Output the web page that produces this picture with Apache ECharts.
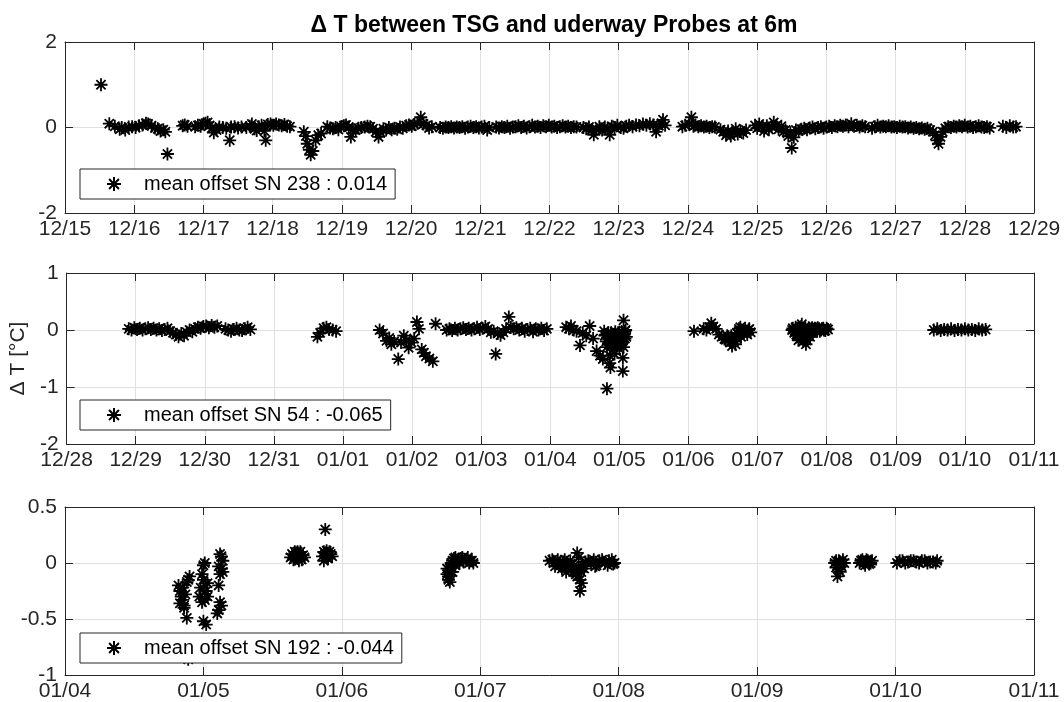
<!DOCTYPE html>
<html>
<head>
<meta charset="utf-8">
<script src="https://cdn.jsdelivr.net/npm/echarts@6/dist/echarts.min.js"></script>
<style>
html,body{margin:0;padding:0;background:#fff;}
#chart{width:1064px;height:702px;}
</style>
</head>
<body>
<div id="chart"></div>
<script>
// Tick labels: index = days since 12/15
const dateLabels = ['12/15','12/16','12/17','12/18','12/19','12/20','12/21','12/22','12/23','12/24','12/25','12/26','12/27','12/28','12/29','12/30','12/31','01/01','01/02','01/03','01/04','01/05','01/06','01/07','01/08','01/09','01/10','01/11'];

const titleText = '\u0394 T between TSG and uderway Probes at 6m';
const yAxisTitle = '\u0394 T [\u00B0C]';
const seriesNames = ['mean offset SN 238 : 0.014', 'mean offset SN 54 : -0.065', 'mean offset SN 192 : -0.044'];

// [day since 12/15, delta T]
const sn238 = [
[0.52,1.0],
[0.64,0.09],[0.72,0.03],[0.79,-0.04],[0.82,0.0],[0.87,-0.06],[0.92,0.01],[0.97,0.02],[1.02,0.0],[1.07,0.04],[1.12,0.06],[1.17,0.1],[1.2,0.08],[1.25,0.04],[1.3,-0.01],[1.34,-0.03],[1.38,-0.08],[1.42,-0.05],[1.45,-0.1],[1.48,-0.62],
[1.7,0.04],[1.73,0.06],[1.77,0.03],
[1.88,0.02],[1.92,0.05],[1.96,0.03],[2.0,0.08],[2.03,0.1],[2.06,0.12],[2.09,0.05],[2.12,-0.02],[2.15,-0.12],[2.19,-0.06],[2.23,0.01],[2.28,0.0],[2.33,-0.02],[2.38,-0.3],[2.4,0.01],[2.45,0.02],[2.5,-0.01],[2.55,0.01],[2.62,0.0],[2.67,0.03],[2.7,0.08],[2.74,-0.03],[2.77,-0.07],[2.8,0.02],[2.84,0.05],[2.88,-0.08],[2.9,-0.3],[2.93,0.07],[2.97,0.08],[3.01,0.05],[3.05,0.08],[3.09,0.06],[3.13,0.04],[3.17,0.07],[3.21,0.03],[3.25,0.02],
[3.45,-0.1],[3.48,-0.2],[3.5,-0.38],[3.53,-0.52],[3.55,-0.64],[3.58,-0.55],[3.62,-0.3],[3.66,-0.18],[3.7,-0.14],
[3.79,0.02],[3.83,-0.01],[3.87,-0.03],[3.91,0.0],[3.95,-0.05],[3.99,0.02],[4.03,0.04],[4.06,0.06],[4.1,0.01],[4.13,-0.22],[4.16,-0.05],[4.2,-0.06],[4.24,-0.02],[4.28,0.0],[4.33,0.01],[4.37,0.03],[4.41,0.02],[4.45,-0.03],[4.49,-0.1],[4.53,-0.22],[4.56,-0.12],[4.6,-0.03],[4.64,-0.06],[4.68,0.0],[4.72,-0.05],[4.76,-0.02],[4.8,-0.04],[4.84,0.01],[4.88,-0.02],[4.93,0.04],[4.97,0.06],[5.01,0.03],[5.05,0.07],[5.09,0.1],[5.14,0.24],[5.18,0.08],[5.22,0.05],[5.26,-0.01],[5.3,0.02],
[5.42,0.0],[5.46,-0.02],[5.5,0.01],[5.54,0.0],[5.58,0.02],[5.62,-0.01],[5.66,0.01],[5.7,0.0],[5.74,0.02],[5.78,-0.02],[5.82,0.01],[5.86,0.03],[5.9,0.0],[5.94,0.02],[5.98,-0.01],[6.02,0.01],[6.06,0.03],[6.1,-0.06],[6.13,0.0],
[6.23,0.01],[6.27,-0.01],[6.31,0.02],[6.35,0.0],[6.39,0.03],[6.43,-0.02],[6.47,0.01],[6.51,0.02],[6.55,0.04],[6.59,0.0],[6.63,0.03],[6.67,-0.01],[6.71,0.02],[6.75,0.05],[6.79,0.01],[6.83,0.03],[6.87,0.0],[6.91,0.04],[6.95,0.02],[6.99,0.05],[7.03,0.01],[7.07,0.03],[7.11,0.0],[7.15,0.02],[7.19,0.04],[7.23,0.01],[7.27,0.03],[7.31,0.0],[7.35,0.02],[7.39,0.01],
[7.49,0.0],[7.53,-0.03],[7.57,0.01],[7.61,-0.05],[7.64,-0.17],[7.68,-0.04],[7.72,0.02],[7.76,-0.06],[7.8,0.01],[7.84,-0.03],[7.87,-0.17],[7.9,0.03],[7.94,0.0],[7.98,0.05],
[8.03,0.0],[8.07,-0.02],[8.11,0.03],[8.15,0.05],[8.2,0.02],[8.25,0.06],[8.3,0.04],[8.35,0.08],[8.4,0.05],[8.45,0.09],[8.5,0.06],[8.54,-0.1],[8.58,0.04],[8.62,0.1],[8.64,0.18],[8.67,0.05],
[8.92,0.02],[8.96,0.05],[9.02,0.08],[9.05,0.24],[9.08,0.03],[9.11,0.06],[9.15,0.02],[9.19,0.04],[9.23,0.01],[9.27,0.03],[9.31,0.0],[9.35,0.02],[9.39,0.01],
[9.47,-0.05],[9.51,-0.1],[9.55,-0.18],[9.58,-0.08],[9.62,-0.2],[9.65,-0.12],[9.69,-0.03],[9.72,-0.15],[9.76,-0.08],[9.8,-0.13],[9.84,-0.06],
[9.97,0.05],[10.0,-0.02],[10.03,0.08],[10.07,0.02],[10.1,-0.08],[10.14,0.04],[10.17,-0.05],[10.21,0.02],[10.24,0.12],[10.28,0.05],[10.31,-0.04],[10.35,0.03],[10.38,-0.1],[10.41,-0.06],[10.45,-0.2],[10.48,-0.12],[10.5,-0.48],[10.53,-0.23],[10.56,-0.06],[10.6,-0.08],[10.64,-0.04],[10.68,-0.02],[10.72,-0.05],[10.76,-0.01],[10.8,0.01],[10.84,-0.03],[10.88,0.0],[10.92,0.02],[10.96,-0.02],[11.0,0.01],[11.04,0.03],[11.08,0.0],[11.12,0.04],[11.16,0.02],[11.2,0.05],[11.24,0.03],[11.28,0.06],[11.32,0.02],[11.36,0.09],[11.4,0.03],[11.44,0.05],[11.48,0.01],[11.52,0.04],[11.56,0.02],
[11.66,-0.02],[11.7,0.02],[11.74,0.05],[11.78,0.01],[11.82,0.03],[11.86,0.02],[11.9,0.04],[11.94,0.01],[11.98,0.02],[12.02,0.0],[12.06,0.03],[12.1,0.01],[12.14,0.02],[12.18,-0.01],[12.22,0.01],[12.26,-0.02],[12.3,0.0],[12.34,-0.03],[12.38,-0.01],[12.42,-0.04],[12.46,-0.02],[12.5,-0.06],[12.54,-0.1],[12.57,-0.18],[12.6,-0.3],[12.62,-0.38],[12.65,-0.22],[12.68,-0.1],[12.72,-0.02],[12.76,0.02],[12.8,0.0],[12.84,0.03],[12.88,0.01],[12.92,0.04],[12.96,0.02],[13.0,0.05],[13.04,0.01],[13.08,0.03],[13.12,0.0],[13.16,0.02],[13.2,0.04],[13.24,0.01],[13.28,0.0],[13.32,0.02],[13.36,-0.01],
[13.55,0.03],[13.6,0.0],[13.65,0.04],[13.7,0.01],[13.74,0.02]
];

const sn54 = [
[13.9,0.02],[13.94,0.0],[13.98,0.04],[14.02,0.01],[14.06,0.03],[14.1,0.0],[14.14,0.02],[14.18,0.04],[14.22,0.01],[14.26,0.03],[14.3,0.0],[14.34,0.02],[14.38,-0.01],[14.42,0.01],[14.46,0.03],[14.5,-0.02],[14.54,-0.05],[14.58,-0.08],[14.62,-0.12],[14.66,-0.06],[14.7,-0.1],[14.74,-0.04],[14.78,0.0],[14.82,-0.03],[14.86,0.02],[14.9,0.05],[14.94,0.03],[14.98,0.06],[15.02,0.07],[15.06,0.04],[15.1,0.08],[15.14,0.05],[15.18,0.07],
[15.3,0.02],[15.34,0.0],[15.38,-0.02],[15.42,0.01],[15.46,0.03],[15.5,0.0],[15.54,-0.01],[15.58,0.02],[15.62,0.05],[15.66,0.01],
[16.63,-0.12],[16.67,-0.05],[16.72,0.03],[16.76,0.05],[16.8,0.01],[16.85,0.0],[16.9,-0.02],
[17.53,0.0],[17.58,-0.06],[17.63,-0.19],[17.67,-0.14],[17.7,-0.25],[17.74,-0.2],[17.8,-0.51],[17.84,-0.22],[17.88,-0.1],[17.92,-0.18],[17.95,-0.31],[17.99,-0.22],[18.03,-0.15],[18.07,0.14],[18.1,0.02],[18.14,-0.34],[18.17,-0.4],[18.2,-0.46],[18.25,-0.5],[18.3,-0.55],[18.34,0.11],
[18.5,0.0],[18.54,0.02],[18.58,-0.01],[18.62,0.03],[18.66,0.0],[18.7,0.02],[18.74,0.04],[18.78,0.01],[18.82,0.03],[18.86,0.0],[18.9,0.02],[18.94,0.05],[18.98,0.01],[19.02,0.03],[19.06,0.06],[19.1,0.02],[19.14,-0.04],[19.18,-0.02],[19.21,-0.42],[19.24,-0.06],[19.28,-0.09],[19.32,-0.04],[19.36,0.02],[19.4,0.23],[19.43,0.05],[19.47,0.02],[19.51,0.04],[19.55,0.0],[19.59,0.03],[19.63,-0.02],[19.67,0.01],[19.71,0.03],[19.75,-0.03],[19.79,0.02],[19.83,0.0],[19.87,0.03],[19.91,-0.01],[19.95,0.02],
[20.23,0.05],[20.27,0.02],[20.3,0.07],[20.34,0.0],[20.38,-0.02],[20.43,-0.27],[20.47,-0.05],[20.52,-0.1],[20.57,0.07],[20.62,-0.15],[20.67,-0.37],[20.72,-0.45],[20.76,-0.51],[20.78,-0.02],[20.8,-0.08],[20.82,-1.03],[20.83,-0.15],[20.85,-0.25],[20.86,-0.58],[20.87,-0.66],[20.88,-0.05],[20.9,-0.12],[20.92,-0.2],[20.94,-0.03],[20.95,-0.3],[20.97,-0.1],[20.99,-0.18],[21.0,-0.04],[21.02,-0.14],[21.03,-0.25],[21.05,-0.49],[21.05,-0.72],[21.06,0.17],[21.07,-0.08],[21.08,-0.02],[21.1,-0.12],
[20.79,-0.1],[20.81,-0.2],[20.84,-0.05],[20.86,-0.15],[20.89,-0.25],[20.91,-0.08],[20.93,-0.15],[20.96,-0.22],[20.98,-0.05],[21.01,-0.1],[21.04,-0.2],[21.06,-0.3],[21.08,-0.15],[21.09,0.0],[20.9,-0.35],[20.93,-0.42],[20.86,-0.45],[20.82,-0.3],[20.97,-0.28],[21.0,-0.33],
[22.08,-0.02],[22.22,0.02],[22.26,0.0],[22.3,0.05],[22.33,0.12],[22.36,0.06],[22.4,0.02],[22.44,-0.08],[22.48,-0.12],[22.52,-0.16],[22.56,-0.1],[22.6,-0.22],[22.63,-0.28],[22.66,-0.18],[22.7,-0.05],[22.73,0.02],[22.76,-0.12],[22.8,-0.06],[22.84,-0.02],[22.87,0.0],
[22.62,-0.1],[22.65,-0.2],[22.68,-0.25],[22.7,-0.15],[22.72,-0.08],[22.75,0.05],[22.78,-0.02],[22.82,0.03],[22.85,-0.08],[22.88,0.02],[22.9,-0.04],[22.54,-0.17],[22.58,-0.12],
[23.5,0.0],[23.53,-0.05],[23.55,0.05],[23.57,-0.1],[23.6,0.03],[23.62,-0.15],[23.64,0.1],[23.66,-0.2],[23.68,0.0],[23.7,-0.25],[23.72,-0.08],[23.74,0.04],[23.76,-0.12],[23.78,0.02],[23.8,-0.05],[23.83,0.03],[23.86,-0.02],[23.89,0.02],[23.92,0.0],[23.95,0.03],[23.98,-0.01],[24.02,0.01],
[23.51,0.03],[23.54,-0.02],[23.56,-0.08],[23.58,0.0],[23.59,-0.18],[23.61,-0.05],[23.63,0.06],[23.65,-0.1],[23.67,-0.14],[23.69,0.05],[23.71,-0.18],[23.73,-0.03],[23.75,0.02],[23.77,-0.05],[23.79,0.04],[23.81,0.0],[23.84,0.02],[23.87,0.04],[23.9,-0.02],[23.93,0.02],[23.96,0.0],[24.0,0.03],
[25.55,0.0],[25.6,0.02],[25.65,-0.01],[25.7,0.01],[25.75,0.0],[25.8,0.02],[25.85,-0.01],[25.9,0.01],[25.95,0.0],[26.0,0.02],[26.05,0.0],[26.1,0.01],[26.15,-0.01],[26.2,0.02],[26.25,0.0],[26.3,0.01]
];

const sn192 = [
[20.82,-0.2],[20.83,-0.25],[20.84,-0.3],[20.85,-0.33],[20.83,-0.36],[20.86,-0.38],[20.87,-0.28],[20.88,-0.17],[20.89,-0.15],[20.9,-0.12],[20.88,-0.49],[20.89,-0.86],[20.85,-0.22],[20.86,-0.4],
[20.97,-0.3],[20.98,-0.22],[20.99,-0.1],[21.0,-0.02],[21.01,0.0],[21.0,-0.15],[21.02,-0.25],[21.01,-0.33],[20.99,-0.35],[21.03,-0.18],[21.0,-0.52],[21.02,-0.55],[21.03,-0.3],
[21.1,-0.45],[21.11,-0.42],[21.12,-0.35],[21.11,-0.2],[21.12,-0.1],[21.13,-0.05],[21.14,0.02],[21.13,0.06],[21.12,0.08],[21.11,-0.03],[21.14,-0.08],[21.13,-0.38],
[21.64,0.08],[21.66,0.05],[21.68,0.1],[21.7,0.06],[21.65,0.03],[21.69,0.02],[21.72,0.07],[21.67,0.09],
[21.63,0.05],[21.66,0.1],[21.68,0.04],[21.7,0.1],[21.71,0.03],[21.73,0.05],
[21.88,0.3],
[21.86,0.06],[21.88,0.09],[21.9,0.04],[21.92,0.08],[21.89,0.11],[21.87,0.02],
[21.87,0.1],[21.89,0.05],[21.91,0.1],[21.93,0.06],
[22.76,-0.1],[22.77,-0.15],[22.78,-0.05],[22.79,0.0],[22.8,-0.08],[22.81,0.04],[22.82,-0.02],[22.84,0.02],[22.86,0.04],[22.88,0.01],[22.9,0.03],[22.92,0.0],[22.94,0.02],
[22.76,-0.05],[22.77,-0.12],[22.78,-0.17],[22.79,-0.08],[22.8,0.02],[22.82,0.05],[22.85,0.0],[22.87,0.05],[22.91,0.05],[22.93,0.02],[22.95,0.0],
[23.5,0.02],[23.53,0.0],[23.56,0.03],[23.58,-0.02],[23.6,0.01],[23.63,-0.04],[23.65,0.02],[23.67,-0.08],[23.69,-0.1],[23.7,0.09],[23.71,-0.05],[23.72,-0.15],[23.72,-0.25],[23.73,-0.18],[23.74,-0.02],[23.76,0.01],[23.8,0.0],[23.83,-0.03],[23.86,0.02],[23.9,0.0],[23.93,0.02],[23.96,-0.01],
[23.52,0.03],[23.54,-0.03],[23.57,0.0],[23.59,-0.05],[23.61,0.03],[23.62,-0.08],[23.64,-0.03],[23.66,-0.06],[23.68,-0.02],[23.7,-0.12],[23.71,0.05],[23.73,-0.08],[23.75,-0.05],[23.78,0.02],[23.82,0.03],[23.84,-0.02],[23.88,0.03],[23.92,-0.02],[23.95,0.03],[23.97,0.0],
[25.57,0.02],[25.58,-0.02],[25.59,-0.06],[25.58,-0.12],[25.6,0.01],[25.62,0.03],[25.61,-0.03],
[25.56,0.0],[25.57,-0.04],[25.59,0.02],[25.6,-0.08],[25.61,0.0],[25.63,0.0],
[25.75,0.02],[25.77,0.0],[25.79,0.03],[25.81,-0.01],[25.78,-0.02],
[25.74,0.0],[25.76,0.03],[25.78,0.01],[25.8,0.02],[25.82,0.0],[25.83,0.02],
[26.03,0.02],[26.07,0.0],[26.11,0.02],[26.15,0.01],[26.19,0.02],[26.23,0.0],[26.27,0.01],[26.3,0.02],
[26.01,0.0],[26.05,0.02],[26.09,0.01],[26.13,0.02],[26.17,0.0],[26.21,0.02],[26.25,0.01],[26.29,0.0]
];

const panelX = [[0,14],[13,27],[20,27]];
const panelY = [[-2,2,2],[-2,1,1],[-1,0.5,0.5]];

const FONT = '"Liberation Sans", Arial, Helvetica, sans-serif';
const AX = '#262626';
const GRIDC = '#e0e0e0';
const STAR = 'path://M0,-10L0,10M-10,0L10,0M-7.07,-7.07L7.07,7.07M-7.07,7.07L7.07,-7.07';

const grids = [
  {left:65, right:30, top:42, height:171},
  {left:65, right:30, top:273, height:171},
  {left:65, right:30, top:507, height:171}
];

const xAxes = [], yAxes = [], series = [], legends = [];
const datas = [sn238, sn54, sn192];
const legendTops = [169, 400, 633];

for (let i = 0; i < 3; i++) {
  xAxes.push({
    type:'value', gridIndex:i, min:panelX[i][0], max:panelX[i][1], interval:1,
    axisLine:{show:true, onZero:false, lineStyle:{color:AX, width:1}},
    axisTick:{show:true, inside:true, length:8, lineStyle:{color:AX}},
    axisLabel:{show:true, margin:6, color:AX, fontFamily:FONT, fontSize:21,
      formatter:function(v){ return dateLabels[Math.round(v)]; }},
    splitLine:{show:true, lineStyle:{color:GRIDC, width:1}}
  });
  xAxes.push({
    type:'value', gridIndex:i, position:'top', min:panelX[i][0], max:panelX[i][1], interval:1,
    axisLine:{show:true, onZero:false, lineStyle:{color:AX, width:1}},
    axisTick:{show:true, inside:true, length:8, lineStyle:{color:AX}},
    axisLabel:{show:false}, splitLine:{show:false}
  });
  const ya = {
    type:'value', gridIndex:i, min:panelY[i][0], max:panelY[i][1], interval:panelY[i][2],
    axisLine:{show:true, onZero:false, lineStyle:{color:AX, width:1}},
    axisTick:{show:true, inside:true, length:8, lineStyle:{color:AX}},
    axisLabel:{show:true, margin:8, color:AX, fontFamily:FONT, fontSize:21},
    splitLine:{show:true, lineStyle:{color:GRIDC, width:1}}
  };
  if (i === 1) {
    ya.name = yAxisTitle;
    ya.nameLocation = 'middle';
    ya.nameGap = 36;
    ya.nameRotate = 90;
    ya.nameTextStyle = {color:AX, fontFamily:FONT, fontSize:21};
  }
  yAxes.push(ya);
  yAxes.push({
    type:'value', gridIndex:i, position:'right', min:panelY[i][0], max:panelY[i][1], interval:panelY[i][2],
    axisLine:{show:true, onZero:false, lineStyle:{color:AX, width:1}},
    axisTick:{show:true, inside:true, length:8, lineStyle:{color:AX}},
    axisLabel:{show:false}, splitLine:{show:false}
  });
  series.push({
    type:'scatter', name:seriesNames[i], xAxisIndex:2*i, yAxisIndex:2*i,
    data:datas[i], symbol:STAR, symbolSize:13, symbolKeepAspect:true,
    itemStyle:{color:'#000', borderColor:'#000', borderWidth:1.8, opacity:1},
    emphasis:{disabled:true}, silent:true, animation:false
  });
  legends.push({
    data:[seriesNames[i]], left:80, top:legendTops[i], orient:'horizontal',
    backgroundColor:'#fff', borderColor:AX, borderWidth:1,
    padding:[5,8,5,26], itemWidth:14, itemHeight:14, itemGap:0, symbolKeepAspect:true,
    selectedMode:false,
    textStyle:{color:'#000', fontFamily:FONT, fontSize:20, padding:[0,0,0,18]}
  });
}

const chart = echarts.init(document.getElementById('chart'), null, {renderer:'canvas'});
chart.setOption({
  animation:false,
  backgroundColor:'#fff',
  title:{text:titleText, left:549, top:9, textAlign:'center',
    textStyle:{color:'#000', fontFamily:FONT, fontSize:23, fontWeight:'bold'}},
  grid:grids,
  xAxis:xAxes,
  yAxis:yAxes,
  legend:legends,
  series:series
});
</script>
</body>
</html>
